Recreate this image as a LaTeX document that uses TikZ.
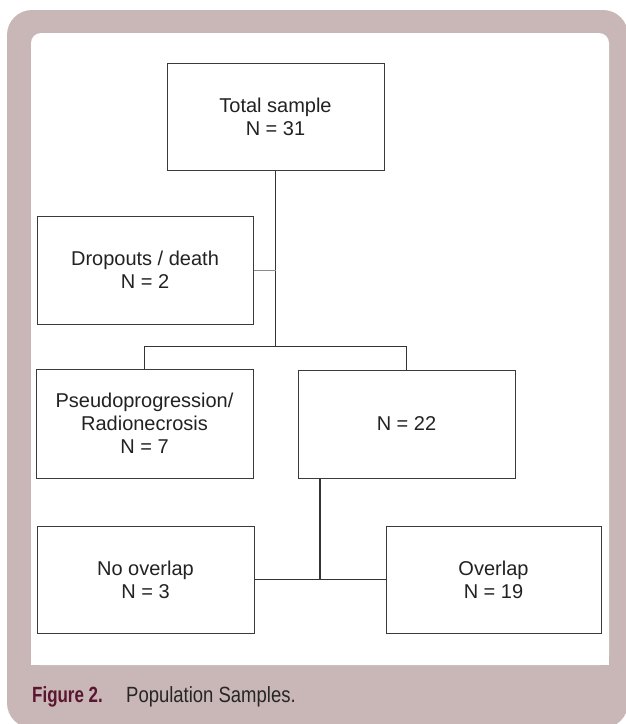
\documentclass[tikz,border=0pt]{standalone}
\usepackage{fontspec}
\setmainfont{Liberation Sans}
\newfontfamily\capregfont[FakeStretch=0.84]{Liberation Sans}
\newfontfamily\capboldfont[FakeStretch=0.77]{Liberation Sans}
\definecolor{framecol}{HTML}{C9B7B7}
\definecolor{capred}{HTML}{5A1530}
\definecolor{captext}{HTML}{262626}
\definecolor{boxline}{HTML}{3A3A3A}
\definecolor{boxtext}{HTML}{222222}
\begin{document}
\begin{tikzpicture}[x=1pt,y=-1pt,
  stagebox/.style={draw=boxline, line width=1pt, fill=white, inner sep=0pt,
    align=center, text=boxtext, font=\fontsize{20}{23}\selectfont},
  conn/.style={draw=boxline!90!black, line width=1.3pt},
  thinconn/.style={draw=black!45, line width=0.8pt}]
\useasboundingbox (0,0) rectangle (625,724);
% frame
\fill[framecol, rounded corners=25pt] (7,10) rectangle (628,728);
\fill[white, rounded corners=10pt] (31,33) rectangle (609,665);
\fill[white] (31,100) rectangle (609,665);
% boxes
\node[stagebox, minimum width=217pt, minimum height=107pt] (total) at (275.5,116.5) {Total sample\\N = 31};
\node[stagebox, minimum width=216pt, minimum height=108pt] (drop) at (145,270) {Dropouts / death\\N = 2};
\node[stagebox, minimum width=217pt, minimum height=109pt] (pseudo) at (144.5,423.5) {Pseudoprogression/\\Radionecrosis\\N = 7};
\node[stagebox, minimum width=217pt, minimum height=108pt] (rest) at (406.5,424) {N = 22};
\node[stagebox, minimum width=217pt, minimum height=107pt] (noov) at (145.5,579.5) {No overlap\\N = 3};
\node[stagebox, minimum width=215pt, minimum height=107pt] (ov) at (493.5,579.5) {Overlap\\N = 19};
% connectors
\coordinate (split) at (275.5,347);
\coordinate (join) at (320,579.5);
\draw[conn] (total.south) -- (split);
\draw[thinconn] (drop.east) -- (drop.east -| total.south);
\draw[conn] (pseudo.north) -- ++(0,-22) -| (rest.north);
\draw[conn] (rest.south -| join) -- (join);
\draw[conn] (noov.east) -- (ov.west);
% caption
\node[anchor=base west, inner sep=0pt, text=capred, font=\capboldfont\bfseries\fontsize{22}{26}\selectfont] (fig) at (32,702) {Figure 2.};
\node[anchor=base west, inner sep=0pt, text=captext, font=\capregfont\fontsize{22}{26}\selectfont] (cap) at (126,702) {Population Samples.};
\end{tikzpicture}
\end{document}
